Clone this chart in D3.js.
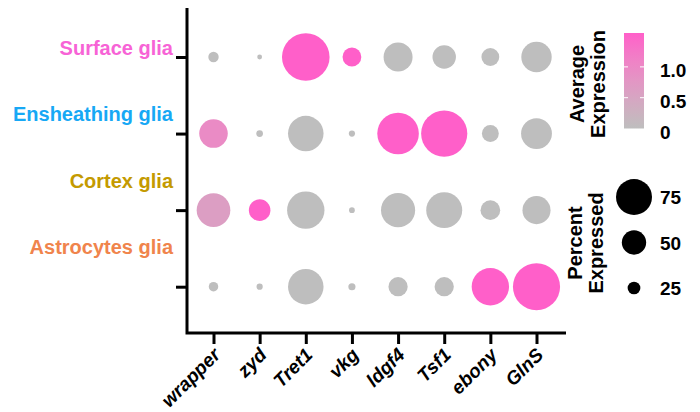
<!DOCTYPE html>
<html>
<head>
<meta charset="utf-8">
<script src="https://cdn.jsdelivr.net/npm/d3@7/dist/d3.min.js"></script>
<style>
  html, body { margin: 0; padding: 0; background: #fff; }
  svg text { font-family: "Liberation Sans", Arial, Helvetica, sans-serif; font-weight: bold; }
</style>
</head>
<body>
<svg id="chart" width="700" height="412"></svg>
<script>
// ---- data ----
const genes = ["wrapper", "zyd", "Tret1", "vkg", "ldgf4", "Tsf1", "ebony", "GlnS"];
const cellTypes = ["Surface glia", "Ensheathing glia", "Cortex glia", "Astrocytes glia"];
const cellColors = ["#F763D6", "#17A8F5", "#C49A00", "#F0844C"];

// percent expressed per cell type (gene order as above)
const pctSurface     = [20, 8, 100, 38, 60, 48, 36, 63];
const pctEnsheathing = [59, 12, 74, 11, 87, 97, 34, 64];
const pctCortex      = [70, 44, 78, 10, 71, 75, 40, 58];
const pctAstrocytes  = [18, 11, 74, 13, 39, 39, 78, 99];

// average expression per cell type
const exprSurface     = [0, 0, 1.55, 1.55, 0, 0, 0, 0];
const exprEnsheathing = [0.95, 0, 0, 0, 1.55, 1.55, 0, 0];
const exprCortex      = [0.62, 1.55, 0, 0, 0, 0, 0, 0];
const exprAstrocytes  = [0, 0, 0, 0, 0, 0, 1.55, 1.55];

const colorTicks = [0, 0.5, 1.0];
const colorTickLabels = ["0", "0.5", "1.0"];
const sizeTicks = [75, 50, 25];

const pctRows = [pctSurface, pctEnsheathing, pctCortex, pctAstrocytes];
const exprRows = [exprSurface, exprEnsheathing, exprCortex, exprAstrocytes];
const points = [];
cellTypes.forEach((c, i) => genes.forEach((g, j) => {
  points.push({cell: c, gene: g, pct: pctRows[i][j], expr: exprRows[i][j]});
}));

// ---- layout ----
const svg = d3.select("#chart");
const axisLeftX = 187, axisTop = 8, axisBottom = 333, axisRight = 566;

const x = d3.scalePoint().domain(genes).range([213.5, 536.5]);
const y = d3.scalePoint().domain(cellTypes).range([57, 286.7]);
const labelY = d3.scalePoint().domain(cellTypes).range([55, 254]);
const r = d3.scaleLinear().domain([0, 100]).range([0.55, 23.8]);
const exprMax = 1.55;
const color = d3.scaleLinear().domain([0, exprMax]).range(["#BEBEBE", "#FF5FC9"])
  .interpolate(d3.interpolateLab).clamp(true);

// dots
svg.append("g").selectAll("circle").data(points).join("circle")
  .attr("cx", d => x(d.gene))
  .attr("cy", d => y(d.cell))
  .attr("r", d => r(d.pct))
  .attr("fill", d => color(d.expr));

// axes lines
svg.append("path")
  .attr("d", `M${axisLeftX},${axisTop}V${axisBottom}H${axisRight}`)
  .attr("fill", "none").attr("stroke", "#000").attr("stroke-width", 3)
  .attr("stroke-linecap", "butt").attr("stroke-linejoin", "miter");

// y ticks
const yAxis = svg.append("g").attr("transform", `translate(${axisLeftX},0)`)
  .call(d3.axisLeft(y).tickSize(11).tickFormat(""));
yAxis.select(".domain").remove();
yAxis.selectAll(".tick line").attr("stroke", "#000").attr("stroke-width", 3);

// x ticks
const xAxis = svg.append("g").attr("transform", `translate(0,${axisBottom})`)
  .call(d3.axisBottom(x).tickSize(11).tickFormat(""));
xAxis.select(".domain").remove();
xAxis.selectAll(".tick line").attr("stroke", "#000").attr("stroke-width", 3);

// x labels
svg.append("g").selectAll("text").data(genes).join("text")
  .attr("transform", d => `translate(${x(d) + 8},${356}) rotate(-45)`)
  .attr("text-anchor", "end")
  .attr("font-size", 19)
  .attr("font-style", "italic")
  .attr("fill", "#000")
  .text(d => d);

// y labels (cell types)
svg.append("g").selectAll("text").data(cellTypes).join("text")
  .attr("x", 173)
  .attr("y", d => labelY(d))
  .attr("text-anchor", "end")
  .attr("font-size", 20)
  .attr("fill", (d, i) => cellColors[i])
  .text(d => d);

// ---- colour legend ----
const cbX = 624, cbW = 20;
const cbY = d3.scaleLinear().domain([0, exprMax]).range([128.5, 33]);
const defs = svg.append("defs");
const grad = defs.append("linearGradient").attr("id", "cbgrad")
  .attr("x1", 0).attr("y1", 1).attr("x2", 0).attr("y2", 0);
d3.range(0, 1.0001, 0.1).forEach(t => {
  grad.append("stop").attr("offset", t).attr("stop-color", color(t * exprMax));
});
svg.append("rect").attr("x", cbX).attr("y", cbY(exprMax)).attr("width", cbW)
  .attr("height", cbY(0) - cbY(exprMax)).attr("fill", "url(#cbgrad)");
const cbTicks = svg.append("g");
colorTicks.forEach((v, i) => {
  if (v > 0) {
    cbTicks.append("line").attr("x1", cbX).attr("x2", cbX + 4).attr("y1", cbY(v)).attr("y2", cbY(v))
      .attr("stroke", "#fff").attr("stroke-width", 1);
    cbTicks.append("line").attr("x1", cbX + cbW - 4).attr("x2", cbX + cbW).attr("y1", cbY(v)).attr("y2", cbY(v))
      .attr("stroke", "#fff").attr("stroke-width", 1);
  }
  cbTicks.append("text").attr("x", 660).attr("y", cbY(v) + 10)
    .attr("font-size", 19).attr("fill", "#000").text(colorTickLabels[i]);
});

// colour legend title
const t1 = svg.append("text").attr("transform", "translate(584,84) rotate(-90)")
  .attr("text-anchor", "middle").attr("font-size", 20).attr("fill", "#000");
t1.append("tspan").attr("x", 0).attr("dy", 0).text("Average");
t1.append("tspan").attr("x", 0).attr("dy", 21).text("Expression");

// ---- size legend ----
const szX = 634;
const szY = d3.scalePoint().domain(sizeTicks).range([197, 288]);
sizeTicks.forEach(v => {
  svg.append("circle").attr("cx", szX).attr("cy", szY(v)).attr("r", r(v)).attr("fill", "#000");
  svg.append("text").attr("x", 660).attr("y", szY(v) + 7)
    .attr("font-size", 19).attr("fill", "#000").text(v);
});
const t2 = svg.append("text").attr("transform", "translate(582,243) rotate(-90)")
  .attr("text-anchor", "middle").attr("font-size", 20).attr("fill", "#000");
t2.append("tspan").attr("x", 0).attr("dy", 0).text("Percent");
t2.append("tspan").attr("x", 0).attr("dy", 21).text("Expressed");
</script>
</body>
</html>
